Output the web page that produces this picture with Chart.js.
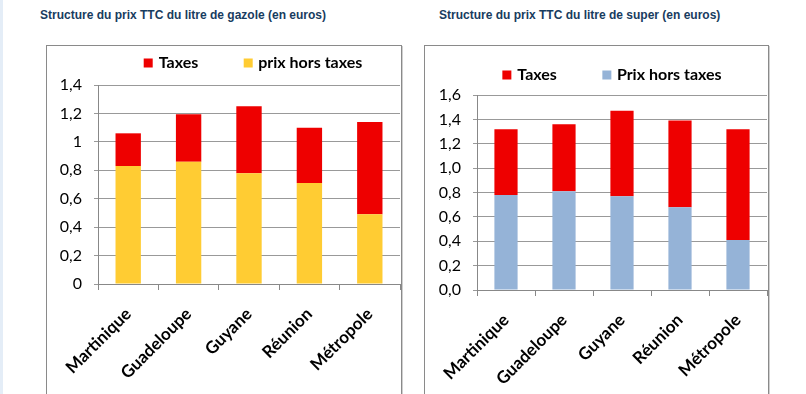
<!DOCTYPE html>
<html lang="fr">
<head>
    <meta charset="UTF-8">
    <title>Structure du prix TTC</title>
    <script src="https://cdn.jsdelivr.net/npm/chart.js"></script>
    <style>
        body{
        margin: 0;
        width: 806px;
        height: 394px;
        overflow: hidden;
        background: #fff;
        position: relative;
        font-family: Lato, "Open Sans", sans-serif;
        }
        .strip{
        position: absolute; left: 0; top: 0; width: 3px; height: 394px;
        background: #e4edf7;
        }
        .titre{
        position: absolute;
        top: 8px;
        font: bold 12px "Liberation Sans", Arial, sans-serif;
        color: #183c60;
        white-space: nowrap;
        }
        .cadre{
        position: absolute;
        top: 45px;
        height: 360px;
        border: 1px solid #8a8a8a;
        box-shadow: 1px 1px 0 #cfcfcf;
        background: #fff;
        }
        .legende{
        position: absolute;
        display: flex;
        gap: 45px;
        transform: translate(-50%, -50%);
        font: bold 16px Lato, sans-serif;
        white-space: nowrap;
        }
        .legende span i{
        display: inline-block; width: 9px; height: 9px; margin-right: 6px;
        }
    </style>
</head>
<body>
    <div class="strip"></div>
    <div class="titre" id="t1" style="left:40px">Structure du prix TTC du litre de gazole (en euros)</div>
    <div class="titre" id="t2" style="left:439px">Structure du prix TTC du litre de super (en euros)</div>

    <div class="cadre" style="left:46px; width:354px;">
        <canvas id="gazole" width="354" height="360"></canvas>
        <div class="legende" id="leg1" style="left:206px; top:15px;"></div>
    </div>
    <div class="cadre" style="left:424px; width:343px;">
        <canvas id="super" width="343" height="360"></canvas>
        <div class="legende" id="leg2" style="left:187px; top:27px;"></div>
    </div>

    <script>
        // données
        const regions = ['Martinique', 'Guadeloupe', 'Guyane', 'Réunion', 'Métropole'];

        const gazoleHT = [0.83, 0.86, 0.78, 0.71, 0.49];
        const gazoleTaxes = [0.23, 0.335, 0.47, 0.39, 0.65];

        const superHT = [0.78, 0.81, 0.77, 0.68, 0.41];
        const superTaxes = [0.54, 0.55, 0.70, 0.71, 0.91];

        const gazoleTicks = [0, 0.2, 0.4, 0.6, 0.8, 1, 1.2, 1.4];
        const superTicks = [0, 0.2, 0.4, 0.6, 0.8, 1.0, 1.2, 1.4, 1.6];

        const ROUGE = '#ee0000';
        const JAUNE = '#ffcc33';
        const BLEU = '#95b3d7';

        function makeChart(id, ht, taxes, labelHT, colorHT, ticks, fmt, geo) {
            const ctx = document.getElementById(id).getContext('2d');
            return new Chart(ctx, {
                type: 'bar',
                data: {
                    labels: regions,
                    datasets: [
                        { label: labelHT, data: ht, backgroundColor: colorHT, barPercentage: geo.bar, categoryPercentage: 1.0 },
                        { label: 'Taxes', data: taxes, backgroundColor: ROUGE, barPercentage: geo.bar, categoryPercentage: 1.0 }
                    ]
                },
                options: {
                    responsive: false,
                    animation: false,
                    layout: { padding: { top: geo.top, left: 0, right: 1, bottom: 0 } },
                    scales: {
                        x: {
                            stacked: true,
                            grid: { offset: true, drawOnChartArea: false, drawTicks: true, tickLength: 6, color: '#888' },
                            border: { color: '#888' },
                            ticks: {
                                autoSkip: false, minRotation: 45, maxRotation: 45, padding: 14,
                                color: '#000', font: { family: 'Lato', weight: 'bold', size: 17 }
                            },
                            afterFit: (scale) => { scale.height = 360 - geo.bottom; }
                        },
                        y: {
                            stacked: true,
                            min: 0,
                            max: ticks[ticks.length - 1],
                            afterBuildTicks: (scale) => { scale.ticks = ticks.map(v => ({ value: v })); },
                            grid: { color: '#999', tickLength: 4 },
                            border: { color: '#888' },
                            ticks: {
                                padding: 12, color: '#000',
                                font: { family: 'Lato', size: 16 },
                                callback: fmt
                            },
                            afterFit: (scale) => { scale.width = geo.left; }
                        }
                    },
                    plugins: {
                        legend: { display: false },
                        tooltip: { enabled: false }
                    }
                }
            });
        }

        const c1 = makeChart('gazole', gazoleHT, gazoleTaxes, 'prix hors taxes', JAUNE, gazoleTicks,
            (v) => String(Math.round(v * 10) / 10).replace('.', ','),
            { top: 39, bottom: 238, left: 51, bar: 0.42 });
        const c2 = makeChart('super', superHT, superTaxes, 'Prix hors taxes', BLEU, superTicks,
            (v) => v.toFixed(1).replace('.', ','),
            { top: 49, bottom: 244, left: 52, bar: 0.40 });

        // légende HTML : Taxes d'abord
        function legende(el, chart) {
            const ds = chart.data.datasets.slice().reverse();
            document.getElementById(el).innerHTML = ds.map(d =>
                '<span><i style="background:' + d.backgroundColor + '"></i>' + d.label + '</span>').join('');
        }
        legende('leg1', c1);
        legende('leg2', c2);
    </script>
</body>
</html>
